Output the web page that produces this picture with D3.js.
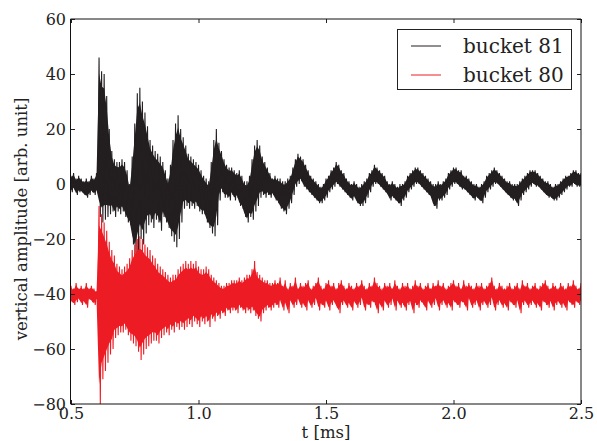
<!DOCTYPE html>
<html>
<head>
<meta charset="utf-8">
<script src="https://cdn.jsdelivr.net/npm/d3@7"></script>
<style>
  html, body { margin: 0; padding: 0; background: #fff; }
  svg { display: block; }
  text { font-family: "DejaVu Serif", serif; fill: #222; }
</style>
</head>
<body>
<svg id="chart" width="597" height="441"></svg>
<script>
// ---- data ----
// time grid: 0.50 .. 2.50 ms, step 0.01 ms; at each step the upper and lower
// excursion of each dense signal band is given.
const tStart = 0.5, tStep = 0.01, nSamples = 201;

const bucket81Upper = [
  3,4,2,3,2,1,2,1,3,2,4,
  46,41,40,32,20,12,9,8,8,9,
  8,5,0,10,22,33,35,30,26,21,
  16,14,12,11,10,8,5,2,7,16,
  22,25,20,17,14,11,10,9,8,7,
  5,3,2,1,8,16,20,15,12,9,
  7,6,6,5,4,5,3,1,1,3,
  9,14,16,14,10,8,6,4,2,3,
  2,2,1,1,2,3,6,9,11,10,
  9,7,5,3,2,1,0,-1,0,2,
  3,5,6,8,7,5,4,2,1,0,
  1,0,-1,0,1,2,4,5,7,6,
  5,4,3,1,0,1,0,-1,0,0,
  1,3,4,5,6,6,5,4,3,2,
  1,0,0,1,0,1,2,4,5,6,
  6,5,5,3,3,2,1,0,0,-1,
  0,1,3,4,5,6,5,4,3,2,
  1,1,0,0,0,1,2,3,4,5,
  5,5,4,3,2,1,1,0,-1,0,
  0,1,2,3,3,4,5,5,4,4
];
const bucket81Lower = [
  -3,-2,-4,-3,-3,-4,-5,-4,-3,-4,-3,
  -12,-14,-13,-12,-11,-10,-12,-10,-11,-10,
  -12,-14,-15,-22,-27,-24,-20,-22,-18,-15,
  -14,-16,-13,-14,-17,-12,-14,-16,-19,-21,
  -23,-20,-14,-9,-8,-9,-8,-9,-8,-10,
  -11,-11,-14,-16,-18,-19,-15,-6,-3,-5,
  -5,-6,-4,-6,-5,-8,-9,-12,-14,-12,
  -13,-10,-8,-5,-4,-5,-4,-5,-4,-6,
  -7,-9,-10,-11,-9,-7,-4,-1,0,1,
  -1,-2,-3,-4,-5,-6,-7,-7,-6,-5,
  -3,-2,-1,0,-1,-2,-3,-4,-5,-6,
  -5,-7,-8,-8,-7,-5,-3,-1,0,0,
  -1,-2,-3,-4,-6,-5,-6,-7,-8,-6,
  -5,-3,-2,-1,0,0,-1,-2,-3,-4,
  -5,-8,-9,-6,-6,-5,-4,-2,-1,0,
  0,-1,-2,-2,-3,-4,-5,-6,-5,-6,
  -7,-5,-3,-2,-1,0,0,-1,-2,-3,
  -4,-5,-6,-6,-8,-6,-4,-3,-2,-1,
  0,-1,-1,-2,-3,-4,-5,-5,-6,-6,
  -5,-4,-3,-2,-1,-1,0,-1,-1,-1
];
const bucket80Upper = [
  -37,-38,-36,-38,-37,-38,-36,-38,-37,-38,-39,
  -8,-11,-14,-17,-21,-24,-26,-29,-30,-31,
  -30,-29,-27,-24,-22,-20,-19,-20,-22,-23,
  -24,-26,-27,-29,-30,-31,-32,-33,-34,-33,
  -33,-31,-30,-29,-28,-29,-28,-29,-28,-30,
  -31,-31,-30,-31,-33,-34,-35,-36,-37,-37,
  -36,-36,-35,-35,-35,-34,-35,-34,-33,-33,
  -31,-28,-32,-33,-34,-35,-35,-36,-36,-35,
  -36,-34,-37,-35,-38,-36,-37,-34,-38,-36,
  -37,-36,-35,-38,-37,-36,-34,-37,-38,-36,
  -35,-37,-36,-38,-36,-35,-37,-38,-36,-37,
  -38,-36,-37,-35,-37,-38,-36,-37,-34,-36,
  -37,-38,-36,-37,-36,-38,-35,-37,-38,-36,
  -37,-36,-38,-37,-35,-37,-36,-38,-37,-36,
  -38,-36,-37,-35,-37,-36,-38,-37,-36,-35,
  -37,-36,-38,-35,-37,-36,-37,-38,-36,-37,
  -36,-38,-37,-36,-34,-37,-38,-36,-37,-38,
  -37,-36,-38,-37,-36,-38,-35,-37,-36,-38,
  -37,-36,-38,-37,-36,-35,-37,-38,-36,-37,
  -38,-36,-37,-38,-36,-37,-35,-37,-38,-36
];
const bucket80Lower = [
  -43,-44,-43,-42,-44,-43,-45,-42,-43,-44,-42,
  -80,-71,-68,-65,-62,-60,-56,-55,-54,-54,
  -53,-55,-57,-58,-59,-61,-64,-62,-60,-59,
  -58,-57,-57,-58,-56,-55,-54,-55,-53,-54,
  -52,-53,-52,-53,-52,-51,-52,-50,-51,-52,
  -50,-51,-50,-52,-49,-50,-48,-49,-47,-48,
  -46,-47,-46,-46,-47,-45,-46,-47,-46,-47,
  -46,-48,-49,-50,-47,-46,-45,-46,-45,-44,
  -45,-43,-46,-44,-47,-43,-45,-44,-42,-45,
  -44,-46,-43,-45,-44,-42,-46,-44,-45,-43,
  -46,-44,-43,-45,-47,-44,-43,-45,-44,-46,
  -43,-45,-44,-42,-46,-44,-45,-43,-44,-47,
  -44,-46,-43,-45,-44,-42,-46,-43,-45,-44,
  -46,-44,-43,-47,-44,-45,-43,-44,-46,-43,
  -45,-44,-42,-46,-44,-43,-45,-44,-46,-43,
  -44,-45,-43,-44,-46,-42,-45,-44,-43,-46,
  -44,-43,-45,-44,-42,-46,-44,-43,-45,-44,
  -46,-43,-44,-45,-43,-47,-44,-43,-45,-44,
  -43,-45,-44,-46,-43,-44,-45,-43,-46,-44,
  -43,-45,-44,-46,-43,-44,-45,-43,-44,-43
];

const seriesNames = ["bucket 81", "bucket 80"];
const seriesColors = ["#231f20", "#ed1c24"];
const xTicks = [0.5, 1.0, 1.5, 2.0, 2.5];
const xTickLabels = ["0.5", "1.0", "1.5", "2.0", "2.5"];
const yTicks = [-80, -60, -40, -20, 0, 20, 40, 60];
const yTickLabels = ["\u221280", "\u221260", "\u221240", "\u221220", "0", "20", "40", "60"];
const xLabel = "t [ms]";
const yLabel = "vertical amplitude [arb. unit]";

// ---- layout ----
const svg = d3.select("#chart");
const pLeft = 71, pRight = 581, pTop = 19, pBottom = 404;
const x = d3.scaleLinear().domain([0.5, 2.5]).range([pLeft, pRight]);
const y = d3.scaleLinear().domain([-80, 60]).range([pBottom, pTop]);

const times = d3.range(nSamples).map(i => tStart + i * tStep);

svg.append("defs").append("clipPath").attr("id", "plotclip")
  .append("rect").attr("x", pLeft).attr("y", pTop)
  .attr("width", pRight - pLeft).attr("height", pBottom - pTop);

function zigzag(upper, lower) {
  const pts = [];
  times.forEach((t, i) => {
    pts.push([t, upper[i]]);
    pts.push([t + tStep / 2, lower[i]]);
  });
  return pts;
}
function band(upper, lower) {
  return times.map((t, i) => [t, upper[i], lower[i]]);
}
const line = d3.line().x(d => x(d[0])).y(d => y(d[1]));
// inner band: the solid core of the dense trace, slightly inside the extremes
const area = d3.area().x(d => x(d[0]))
  .y0(d => y(d[2] + 0.1 * (d[1] - d[2])))
  .y1(d => y(d[1] - 0.1 * (d[1] - d[2])));

const plot = svg.append("g").attr("clip-path", "url(#plotclip)");
const series = [
  { up: bucket81Upper, lo: bucket81Lower },
  { up: bucket80Upper, lo: bucket80Lower }
];
series.forEach((s, k) => {
  plot.append("path").datum(band(s.up, s.lo))
    .attr("d", area)
    .attr("fill", seriesColors[k]);
  plot.append("path").datum(zigzag(s.up, s.lo))
    .attr("d", line)
    .attr("fill", "none")
    .attr("stroke", seriesColors[k])
    .attr("stroke-width", 1.1)
    .attr("stroke-linejoin", "miter");
});

// ---- axes (inward ticks on all four sides) ----
const fs = 16;
function styleAxis(g) {
  g.select(".domain").remove();
  g.selectAll(".tick line").attr("stroke", "#222");
  g.selectAll(".tick text").style("font-size", fs + "px").style("font-family", "DejaVu Serif, serif").attr("fill", "#222");
}
svg.append("g").attr("transform", `translate(0,${pBottom})`)
  .call(d3.axisBottom(x).tickValues(xTicks).tickFormat((d, i) => xTickLabels[i]).tickSize(-4).tickPadding(4))
  .call(styleAxis);
svg.append("g").attr("transform", `translate(0,${pTop})`)
  .call(d3.axisTop(x).tickValues(xTicks).tickFormat("").tickSize(-4))
  .call(styleAxis);
svg.append("g").attr("transform", `translate(${pLeft},0)`)
  .call(d3.axisLeft(y).tickValues(yTicks).tickFormat((d, i) => yTickLabels[i]).tickSize(-4).tickPadding(5))
  .call(styleAxis);
svg.append("g").attr("transform", `translate(${pRight},0)`)
  .call(d3.axisRight(y).tickValues(yTicks).tickFormat("").tickSize(-4))
  .call(styleAxis);

// frame
svg.append("line").attr("x1", pLeft - 0.5).attr("x2", pLeft - 0.5).attr("y1", pTop).attr("y2", pBottom).attr("stroke", "#111");
svg.append("line").attr("x1", pLeft - 0.5).attr("x2", pRight).attr("y1", pTop).attr("y2", pTop).attr("stroke", "#111");
svg.append("line").attr("x1", pLeft - 0.5).attr("x2", pRight).attr("y1", pBottom).attr("y2", pBottom).attr("stroke", "#111");
svg.append("line").attr("x1", pRight).attr("x2", pRight).attr("y1", pTop).attr("y2", pBottom).attr("stroke", "#111");

// axis labels
svg.append("text").attr("x", (pLeft + pRight) / 2).attr("y", 438)
  .attr("text-anchor", "middle").style("font-size", "16.5px").text(xLabel);
svg.append("text").attr("transform", "translate(27,219) rotate(-90)")
  .attr("text-anchor", "middle").style("font-size", "16.5px").text(yLabel);

// legend
const lg = svg.append("g");
lg.append("rect").attr("x", 397.5).attr("y", 29.5).attr("width", 174).attr("height", 60)
  .attr("fill", "#fff").attr("stroke", "#222").attr("stroke-width", 1);
seriesNames.forEach((name, k) => {
  const yy = 46 + k * 29;
  lg.append("line").attr("x1", 411).attr("x2", 441).attr("y1", yy).attr("y2", yy)
    .attr("stroke", seriesColors[k]).attr("stroke-width", 1);
  lg.append("text").attr("x", 463).attr("y", yy + 7).style("font-size", "20px").text(name);
});
</script>
</body>
</html>
